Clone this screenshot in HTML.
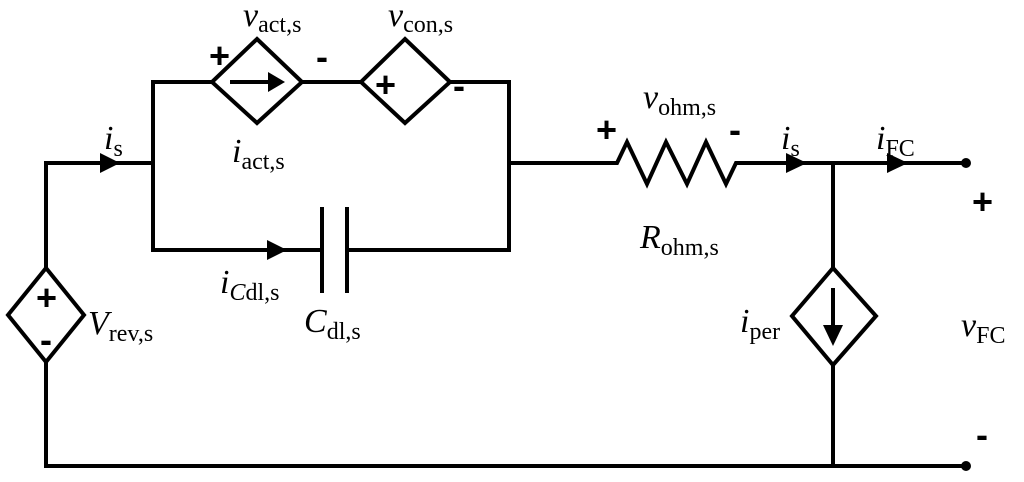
<!DOCTYPE html>
<html><head><style>
html,body{margin:0;padding:0;background:#fff;}
svg{display:block;}
text{font-family:"Liberation Serif",serif;fill:#000;}
.v{font-style:italic;font-size:34px;}
.s{font-size:24px;font-style:normal;}
.p{font-family:"Liberation Sans",sans-serif;font-weight:bold;font-size:36px;}
</style></head><body>
<svg width="1024" height="482" viewBox="0 0 1024 482" xmlns="http://www.w3.org/2000/svg">
<g stroke="#000" stroke-width="4" fill="none" stroke-linejoin="miter">
<polyline points="46,268 46,163 153,163"/>
<polyline points="46,362 46,466 966,466"/>
<polygon points="46,268 84,315 46,362 8,315"/>
<polyline points="212,82 153,82 153,250 322,250"/>
<line x1="302" y1="82" x2="361" y2="82"/>
<polyline points="450,82 509,82 509,250 347,250"/>
<polygon points="257,39 302,82 257,123 212,82"/>
<polygon points="405,39 450,82 405,123 361,82"/>
<line x1="322" y1="207" x2="322" y2="293"/>
<line x1="347" y1="207" x2="347" y2="293"/>
<line x1="230" y1="82" x2="272" y2="82"/>
<polyline points="509,163 617,163 627,142 647,184 666,142 687,184 706,142 726,184 736,163 966,163"/>
<line x1="833" y1="163" x2="833" y2="268"/>
<line x1="833" y1="365" x2="833" y2="466"/>
<polygon points="833,268 876,316 833,365 792,316"/>
<line x1="833" y1="288" x2="833" y2="326"/>
</g>
<g fill="#000">
<polygon points="285,82 268,72 268,92"/>
<polygon points="833,346 823,325 843,325"/>
<polygon points="120,163 100,153 100,173"/>
<polygon points="287,250 267,240 267,260"/>
<polygon points="807,163 786,153 786,173"/>
<polygon points="908,163 887,153 887,173"/>
<circle cx="966" cy="163" r="5"/>
<circle cx="966" cy="466" r="5"/>
</g>
<text class="v" x="243" y="26">v<tspan class="s" dy="6">act,s</tspan></text>
<text class="v" x="388" y="26">v<tspan class="s" dy="6">con,s</tspan></text>
<text class="p" x="209" y="68">+</text>
<text class="p" x="316" y="69">-</text>
<text class="p" x="396" y="97" text-anchor="end">+</text>
<text class="p" x="453" y="98">-</text>
<text class="v" x="232" y="162">i<tspan class="s" dy="7">act,s</tspan></text>
<text class="v" x="104" y="149">i<tspan class="s" dy="7">s</tspan></text>
<text class="v" x="220" y="293">i<tspan class="s" dy="7"><tspan font-style="italic">C</tspan>dl,s</tspan></text>
<text class="v" x="304" y="332">C<tspan class="s" dy="7">dl,s</tspan></text>
<text class="v" x="88" y="334">V<tspan class="s" dy="7">rev,s</tspan></text>
<text class="p" x="36" y="310">+</text>
<text class="p" x="40" y="352">-</text>
<text class="v" x="643" y="108">v<tspan class="s" dy="7">ohm,s</tspan></text>
<text class="p" x="596" y="142">+</text>
<text class="p" x="729" y="142">-</text>
<text class="v" x="640" y="248">R<tspan class="s" dy="7">ohm,s</tspan></text>
<text class="v" x="781" y="149">i<tspan class="s" dy="7">s</tspan></text>
<text class="v" x="876" y="149">i<tspan class="s" dy="7">FC</tspan></text>
<text class="v" x="740" y="332">i<tspan class="s" dy="7">per</tspan></text>
<text class="v" x="961" y="336">v<tspan class="s" dy="7">FC</tspan></text>
<text class="p" x="972" y="214">+</text>
<text class="p" x="976" y="447">-</text>
</svg>
</body></html>
